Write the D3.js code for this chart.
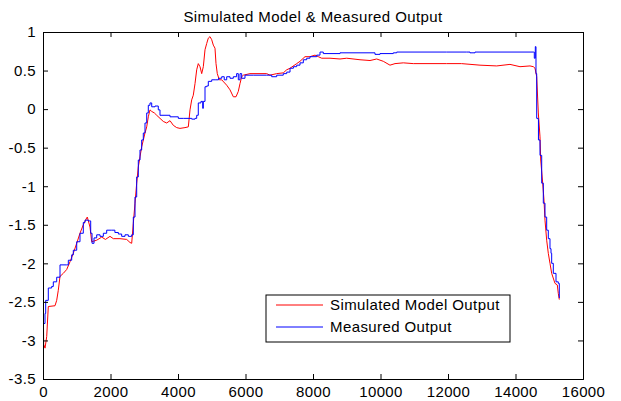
<!DOCTYPE html>
<html>
<head>
<meta charset="utf-8">
<script src="https://cdn.jsdelivr.net/npm/d3@7"></script>
<style>
  html, body { margin: 0; padding: 0; background: #fff; }
  svg { display: block; font-family: "Liberation Sans", Arial, Helvetica, sans-serif; }
</style>
</head>
<body>
<svg id="chart" width="621" height="401"></svg>
<script>
const title = "Simulated Model & Measured Output";
const seriesNames = ["Simulated Model Output", "Measured Output"];
const xTicks = [0, 2000, 4000, 6000, 8000, 10000, 12000, 14000, 16000];
const yTicks = [1, 0.5, 0, -0.5, -1, -1.5, -2, -2.5, -3, -3.5];

const simX = [0,20,60,110,157,356,406,453,504,601,702,800,898,999,1096,1194,1295,1313,1393,1443,1591,1739,1850,1985,2083,2281,2480,2578,2628,2676,2726,2776,2824,2874,2924,3022,3073,3120,3170,3221,3300,3369,3467,3564,3665,3763,3861,3961,4059,4207,4306,4356,4406,4453,4504,4554,4601,4652,4702,4750,4800,4850,4898,4948,4999,5046,5096,5126,5164,5224,5295,5443,5541,5639,5719,5787,5837,5887,5935,6133,6430,6628,6726,6924,7120,7221,7319,7517,7615,7763,7911,8059,8157,8258,8504,8800,8998,9393,9689,9887,10083,10281,10430,10676,10972,11467,11961,12400,12948,13443,13837,14133,14430,14528,14578,14628,14676,14726,14747,14806,14844,14874,14924,14972,15022,15072,15170,15238,15268,15298];
const simY = [-2.15,-3.05,-3.10,-2.95,-2.56,-2.55,-2.48,-2.35,-2.17,-2.13,-2.08,-1.98,-1.87,-1.74,-1.61,-1.50,-1.41,-1.40,-1.53,-1.72,-1.70,-1.66,-1.69,-1.65,-1.68,-1.68,-1.69,-1.73,-1.74,-1.48,-1.22,-0.96,-0.75,-0.62,-0.49,-0.31,-0.23,-0.10,-0.01,-0.03,-0.05,-0.08,-0.12,-0.16,-0.18,-0.15,-0.21,-0.24,-0.25,-0.24,-0.23,-0.01,0.12,0.18,0.33,0.51,0.59,0.55,0.46,0.55,0.77,0.85,0.92,0.94,0.90,0.83,0.79,0.59,0.46,0.38,0.38,0.31,0.25,0.16,0.16,0.23,0.33,0.42,0.44,0.46,0.46,0.46,0.44,0.46,0.47,0.51,0.53,0.59,0.62,0.68,0.68,0.70,0.68,0.66,0.66,0.65,0.66,0.64,0.63,0.65,0.62,0.57,0.59,0.60,0.59,0.59,0.59,0.59,0.57,0.56,0.58,0.55,0.56,0.55,0.53,0.42,-0.05,-0.36,-0.66,-0.96,-1.18,-1.44,-1.70,-1.87,-2.00,-2.13,-2.26,-2.28,-2.39,-2.47];

const measX = [0,30,60,80,157,257,306,406,504,702,750,850,898,999,1096,1194,1245,1343,1413,1453,1512,1591,1690,1788,1887,2035,2130,2233,2331,2430,2528,2628,2676,2726,2776,2824,2874,2924,2972,3022,3073,3120,3170,3221,3319,3416,3467,3615,3763,4009,4157,4406,4504,4554,4601,4680,4732,4750,4800,4850,4898,4999,5100,5200,5295,5370,5443,5541,5639,5737,5787,5837,5887,5985,6231,6628,6776,6924,7120,7221,7319,7420,7517,7615,7713,7813,7911,8109,8207,8305,8800,9393,9837,9985,10379,10480,11961,12554,12652,12800,14430,14528,14557,14587,14607,14628,14676,14680,14726,14776,14824,14874,14924,14972,15022,15052,15072,15120,15200,15268,15298];
const measY = [-2.78,-2.78,-2.65,-2.48,-2.32,-2.30,-2.24,-2.18,-2.02,-2.02,-1.96,-1.89,-1.83,-1.72,-1.61,-1.47,-1.44,-1.45,-1.61,-1.74,-1.67,-1.63,-1.65,-1.61,-1.57,-1.57,-1.60,-1.62,-1.65,-1.63,-1.65,-1.63,-1.40,-1.14,-0.88,-0.66,-0.53,-0.40,-0.31,-0.18,-0.05,0.05,0.08,0.03,0.04,-0.01,-0.08,-0.08,-0.10,-0.12,-0.12,-0.13,-0.12,-0.08,0.08,0.10,0.01,0.10,0.29,0.30,0.36,0.38,0.38,0.40,0.42,0.38,0.42,0.40,0.42,0.46,0.38,0.46,0.40,0.44,0.44,0.44,0.42,0.44,0.46,0.48,0.53,0.55,0.57,0.60,0.64,0.66,0.68,0.70,0.74,0.72,0.73,0.73,0.71,0.72,0.73,0.74,0.74,0.74,0.73,0.74,0.74,0.74,0.66,0.81,0.46,-0.12,-0.14,-0.40,-0.60,-0.96,-1.22,-1.40,-1.57,-1.68,-1.81,-1.87,-2.00,-2.13,-2.24,-2.26,-2.45];

const colors = ["#ff0000", "#0000ff"];

const svg = d3.select("#chart");
const margin = {left: 43, right: 38, top: 32, bottom: 22};
const W = 621, H = 401;
const x = d3.scaleLinear().domain([0, 16000]).range([margin.left, W - margin.right]);
const y = d3.scaleLinear().domain([-3.5, 1]).range([H - margin.bottom, margin.top]);

svg.append("clipPath").attr("id", "clip").append("rect")
  .attr("x", x(0)).attr("y", y(1)).attr("width", x(16000) - x(0)).attr("height", y(-3.5) - y(1));

const simData = simX.map((v, i) => [v, simY[i]]);
const measData = measX.map((v, i) => [v, measY[i]]);

const lineSim = d3.line().x(d => x(d[0])).y(d => y(d[1]));
const lineMeas = d3.line().x(d => x(d[0])).y(d => y(d[1])).curve(d3.curveStepAfter);

const g = svg.append("g").attr("clip-path", "url(#clip)");
g.append("path").attr("d", lineSim(simData)).attr("fill", "none").attr("stroke", colors[0]).attr("stroke-width", 1);
g.append("path").attr("d", lineMeas(measData)).attr("fill", "none").attr("stroke", colors[1]).attr("stroke-width", 1);

// axes (inward ticks, MATLAB style)
const fs = 15;
const ls = "0.4px";
const axB = d3.axisBottom(x).tickValues(xTicks).tickSize(-5).tickPadding(7).tickFormat(d3.format("d"));
const axT = d3.axisTop(x).tickValues(xTicks).tickSize(-5).tickFormat("");
const axL = d3.axisLeft(y).tickValues(yTicks).tickSize(-5).tickPadding(7).tickFormat(d => String(d));
const axR = d3.axisRight(y).tickValues(yTicks).tickSize(-5).tickFormat("");

function style(sel) {
  sel.select(".domain").attr("stroke", "#000");
  sel.selectAll(".tick line").attr("stroke", "#000");
  sel.selectAll("text").attr("font-size", fs).attr("fill", "#000")
    .attr("letter-spacing", ls).attr("font-family", "Liberation Sans, Arial, sans-serif");
}
svg.append("g").attr("transform", `translate(0,${y(-3.5)})`).call(axB).call(style);
svg.append("g").attr("transform", `translate(0,${y(1)})`).call(axT).call(style);
svg.append("g").attr("transform", `translate(${x(0)},0)`).call(axL).call(style);
svg.append("g").attr("transform", `translate(${x(16000)},0)`).call(axR).call(style);

// title
svg.append("text").attr("x", (x(0) + x(16000)) / 2).attr("y", 22).attr("text-anchor", "middle")
  .attr("font-size", fs).attr("letter-spacing", ls).attr("fill", "#000").text(title);

// legend
const lg = svg.append("g").attr("transform", "translate(266,295)");
lg.append("rect").attr("width", 244).attr("height", 47).attr("fill", "#fff").attr("stroke", "#000").attr("stroke-width", 1);
seriesNames.forEach((name, i) => {
  const yy = 10 + i * 22;
  lg.append("line").attr("x1", 10).attr("x2", 57).attr("y1", yy).attr("y2", yy).attr("stroke", colors[i]).attr("stroke-width", 1);
  lg.append("text").attr("x", 64).attr("y", yy).attr("dy", "0.35em").attr("font-size", fs)
    .attr("letter-spacing", ls).attr("fill", "#000").text(name);
});
</script>
</body>
</html>
